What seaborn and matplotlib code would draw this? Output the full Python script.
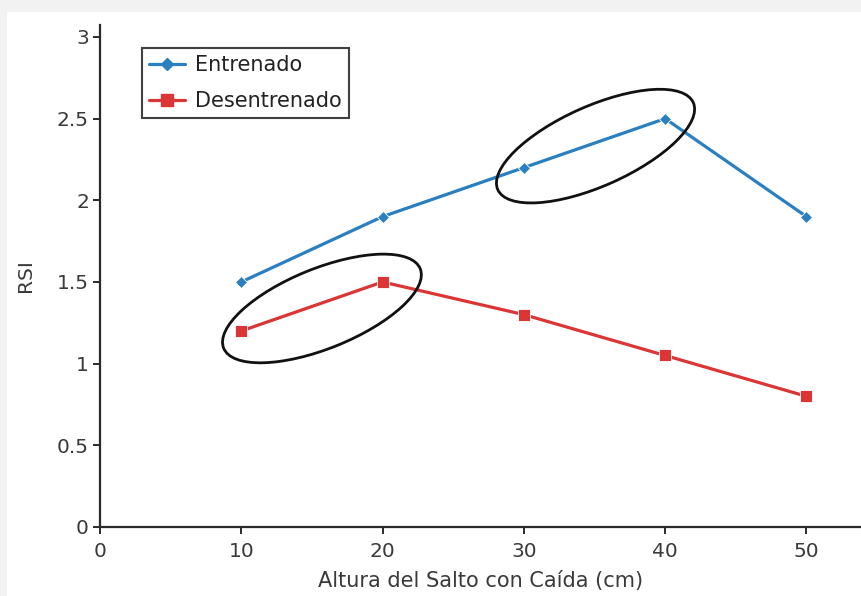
import matplotlib
matplotlib.use("Agg")
import matplotlib.pyplot as plt
from matplotlib.patches import Ellipse, Rectangle
from matplotlib.ticker import FuncFormatter
from matplotlib.transforms import IdentityTransform
import numpy as np
import pandas as pd
import seaborn as sns

alturas = [10, 20, 30, 40, 50]
entrenado = [1.5, 1.9, 2.2, 2.5, 1.9]
desentrenado = [1.2, 1.5, 1.3, 1.05, 0.8]
series_names = ["Entrenado", "Desentrenado"]
x_ticks = [0, 10, 20, 30, 40, 50]
y_ticks = [0, 0.5, 1, 1.5, 2, 2.5, 3]

COLORS = {"Entrenado": "#2a7fc1", "Desentrenado": "#dc3535"}
MARKERS = {"Entrenado": "D", "Desentrenado": "s"}
TEXT = "#3a3a3a"

df = pd.DataFrame({
    "Altura": alturas * 2,
    "RSI": entrenado + desentrenado,
    "Grupo": [series_names[0]] * len(alturas) + [series_names[1]] * len(alturas),
})

sns.set_theme(style="white")
plt.rcParams["font.family"] = ["DejaVu Sans"]

W, H = 861, 596
fig = plt.figure(figsize=(W / 100, H / 100), dpi=100, facecolor="#f2f2f2")
fig.patches.append(Rectangle((7 / W, 0), 1 - 7 / W, (H - 12) / H,
                             transform=fig.transFigure, facecolor="white",
                             edgecolor="none", zorder=-10))
ax = fig.add_axes([100 / W, (H - 527) / H, 1 - 100 / W, (527 - 25) / H])
ax.set_facecolor("none")

sns.lineplot(data=df, x="Altura", y="RSI", hue="Grupo", style="Grupo",
             palette=COLORS, markers=MARKERS, dashes=False, linewidth=2.3,
             markersize=7, markeredgewidth=0.6, ax=ax, legend=False, zorder=3)
for line in ax.lines:
    if line.get_marker() == "s":
        line.set_markersize(8.5)
    else:
        line.set_markersize(6)

ax.set_xlim(0, 53.86)
ax.set_ylim(0, 3.073)
ax.set_xticks(x_ticks)
ax.set_yticks(y_ticks)
fmt = FuncFormatter(lambda v, p: f"{v:g}")
ax.xaxis.set_major_formatter(fmt)
ax.yaxis.set_major_formatter(fmt)

for s in ["top", "right"]:
    ax.spines[s].set_visible(False)
for s in ["left", "bottom"]:
    ax.spines[s].set_color("#2a2a2a")
    ax.spines[s].set_linewidth(1.6)

ax.tick_params(axis="both", direction="out", length=5, width=1.4,
               color="#2a2a2a", labelsize=14.5, labelcolor=TEXT, pad=3)
ax.tick_params(axis="x", pad=6, bottom=True)
ax.tick_params(axis="y", left=True)

ax.set_xlabel("Altura del Salto con Caída (cm)", fontsize=15, color=TEXT, labelpad=7)
ax.set_ylabel("RSI", fontsize=14.5, color=TEXT, labelpad=16)

# legend
handles = [
    plt.Line2D([0], [0], color=COLORS[n], marker=MARKERS[n], linewidth=2.3,
               markersize=6 if n == "Entrenado" else 8.5, label=n)
    for n in series_names
]
leg = ax.legend(handles=handles, loc="upper left", bbox_to_anchor=(42 / 761, 1 - 23 / 502),
                frameon=True, fancybox=False, fontsize=15, handlelength=1.7,
                handletextpad=0.5, borderpad=0.35, labelspacing=0.75, borderaxespad=0)
leg.get_frame().set_edgecolor("#111111")
leg.get_frame().set_linewidth(1.5)
for t in leg.get_texts():
    t.set_color("#222222")

# highlight ellipses around the segments
fig.canvas.draw()
highlights = [
    (desentrenado, 0, 22, 212, 80, (10, 2)),
    (entrenado, 2, 24, 214, 80, (1, 3)),
]
for vals, i, ang, w, h, off in highlights:
    p0 = ax.transData.transform((alturas[i], vals[i]))
    p1 = ax.transData.transform((alturas[i + 1], vals[i + 1]))
    c = (p0 + p1) / 2 + np.array([off[0], -off[1]])
    e = Ellipse(c, w, h, angle=ang, transform=IdentityTransform(),
                fill=False, edgecolor="#111111", linewidth=2.0, zorder=5)
    ax.add_artist(e)

fig.savefig("out.png", dpi=100, facecolor=fig.get_facecolor())
